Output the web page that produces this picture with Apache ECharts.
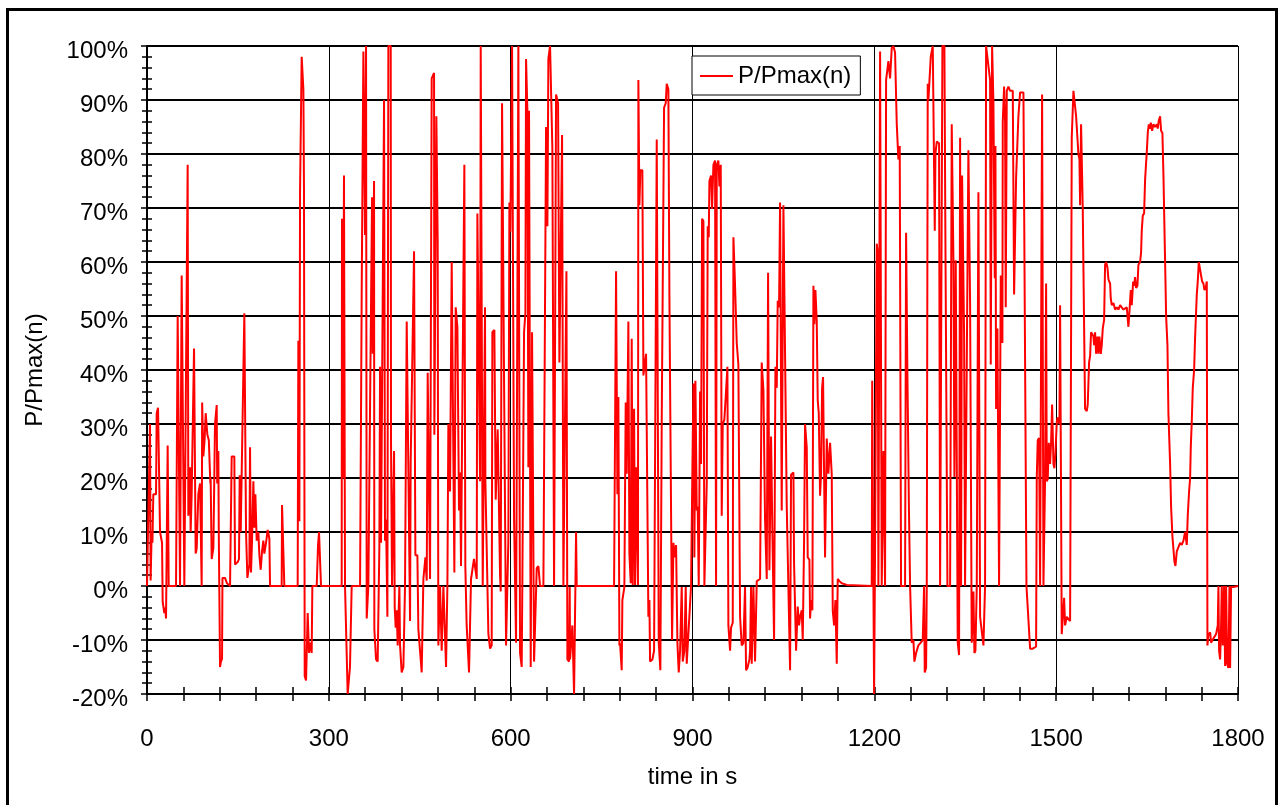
<!DOCTYPE html>
<html>
<head>
<meta charset="utf-8">
<script src="https://cdn.jsdelivr.net/npm/echarts@6/dist/echarts.min.js"></script>
<style>
html,body{margin:0;padding:0;background:#fff;}
#chart{width:1280px;height:805px;}
</style>
</head>
<body>
<div id="chart"></div>
<script>
// ---- data: [time in s, P/Pmax in %] ----
const seg0to300 = [[0,0],[5,30],[6,1],[7.7,10],[9,8],[10.4,17],[14.9,17],[16,32],[18.2,33],[21.5,10],[24.8,8],[25.9,-3],[28.6,-5],[30,-4],[31.4,-6],[34.1,26],[35.8,0],[47.9,0],[50.6,50],[54.5,0],[57.2,57.5],[61.6,0],[67.1,78],[68.2,13],[71,22],[72,10],[73.7,17],[77.6,44],[80.3,6],[82,7],[84.7,17],[87.5,19],[90.2,0],[91,34],[93,24],[95,27],[96.8,32],[99.6,28],[102,27],[104.5,19],[105,20],[106.7,5],[109.5,7],[112.2,30],[115,33.5],[115.8,19],[117.7,25],[118.5,9],[120.5,-15],[122,-14],[123.8,-13.5],[124.5,1.5],[128.7,1.5],[132,0.5],[137,0],[139.7,24],[144.1,24],[145.2,4],[150,4.5],[151.8,5],[152.9,20.5],[154.6,10],[160.6,50.5],[163.4,10],[165.6,1.5],[168.9,4],[170,25.7],[171.6,2.5],[173.3,8.4],[175.5,19.4],[177.1,10.8],[178.8,17],[181,8.4],[183.7,10],[185.4,5.7],[187.6,3],[189.8,6.4],[192,8.4],[193.6,6],[196.4,8],[199.1,10.4],[201.9,8.8],[203,0],[222.2,0],[222.8,15],[225.5,14.7],[226.6,0],[248.6,0],[249.7,45.4],[251.4,12],[252.5,73],[255.2,98],[258,92],[259,73.7],[260.2,-16.7],[262.4,-17.5],[265.1,-5],[267.3,-12.4],[269,-10.5],[271.7,-12.4],[272.8,0],[280,0],[282.2,7.6],[283.8,10],[286,10],[287.1,0]];
const seg300to600 = [[321.2,0],[321.7,68],[323,20],[325,76],[326.7,0],[331.1,-20],[334.9,-15],[337.7,0],[351.5,0],[354.2,54],[357,99],[359.7,65],[361.4,100],[362.5,-6],[365.2,0],[371.3,72],[372.4,43],[374.6,75],[375.1,-8],[376.8,-8],[377.9,-13.6],[380.6,-14],[383.4,7.6],[384.5,40.6],[386.1,8],[391.1,90],[392.7,8.4],[394.4,12.3],[396.6,-5.7],[398.2,100],[402.1,100],[402.6,26.5],[404.3,0],[407.6,25],[408.7,-4],[410.3,-7.7],[412,-4.5],[413.6,-11],[416.4,0],[417.5,-11],[420.2,-16],[423,-15],[425.7,0],[428.5,49],[431.2,49],[434,-6.5],[435,22.6],[440.6,62],[442.8,5.7],[446.1,5.7],[447.7,-8],[450.5,-12],[453.2,-16],[456,1.3],[459.3,5.3],[461.5,1],[463.1,39.5],[467,1.3],[469.7,94],[473.6,95],[474.1,28],[477.4,87],[479.6,64],[480.7,-11],[483.5,0],[486.2,-12],[489,0],[493.4,-15],[495.6,0],[497.2,30],[500,17.5],[502.7,60],[507.1,2.5],[509.3,51.6],[512.1,48],[514.8,14],[516.5,21],[518.1,3.7],[523.6,78],[525.2,3.7],[527.4,-7.3],[531.3,-16],[534.6,1.3],[537.4,1.3],[539.5,5],[541.2,5],[544,1.3],[545.1,69],[547.8,69],[549.5,19.4],[550.6,100],[553.9,0],[557.7,51.6],[558.3,19.4],[563.2,-8.8],[566,-11.6],[568.7,-11],[569.8,47],[573.1,47.4],[575.3,16],[577,16],[578.6,29],[582.5,2],[583.6,-1],[585.8,89.4],[589.1,38],[592.4,-11],[595.1,-11],[596.2,8.4],[597.9,71]];
const seg600to900 = [[599.5,65.6],[602.3,100],[605.6,12.3],[608.9,-10.5],[612.7,100],[615.5,-12.4],[618.2,-15],[619.3,1],[621,1.3],[622.1,47],[624.3,50.6],[625.4,97.6],[627.6,88],[629.2,22],[630.3,88],[633.1,-15],[635.3,47],[638.6,-14],[643,3.3],[645.7,3.7],[648.5,0],[654,0],[658.4,85],[660.6,66.6],[662.2,97.6],[665,100],[668.8,81],[671.6,0],[673.2,0],[674.9,91],[678.2,89.4],[680.4,41.4],[683.1,41.4],[684.8,83.5],[687,0],[692,58.3],[693.6,-13.6],[696.3,-14],[697.4,-0.2],[698,-13.6],[701.8,-7.3],[704.6,-20],[707.9,10],[709,0],[770.6,0],[773.9,58.3],[776.1,17],[777.7,35],[779.4,-11],[780.5,-10.6],[783.2,-15.6],[784.3,-2.6],[787.6,-0.2],[789.8,34],[791.5,20.8],[794.2,49],[795.9,6],[798.1,0.5],[799.7,45.8],[801.4,0.2],[803.6,32.8],[805.2,0.2],[806.9,22],[809.1,22],[810,0.2],[810.7,93.7],[812.4,70.5],[814,77],[817.3,77],[819,39],[823.4,43],[827.2,-5.7],[828.9,-2.6],[830,-14],[833.8,-13.6],[836.6,-12],[841,82.7],[844.3,-10.5],[847,-15.6],[849.2,30],[852,30],[853.1,88.6],[855.8,89.4],[857.5,93],[860.2,92],[861.9,53.6],[864.1,53.6],[866.3,-10],[868.5,8],[871.2,5.3],[872.9,7.6],[875.1,-10.5],[877.3,-16],[879.5,-12],[882.2,-0.2],[883.9,-14],[886.6,-12],[888.8,-0.2],[890.5,-14.4],[897.6,0]];
const seg900to1200 = [[900.4,0],[901.5,37.5],[903.1,5.3],[904.8,38],[907,14],[908.6,14.7],[910.3,0],[912.5,36],[914.1,22.6],[915.8,68],[918,67.6],[919.6,0],[921.8,0],[923.5,19],[925.1,66.6],[926.8,64.6],[927.9,75],[930.6,76],[932.3,69.8],[934.5,78],[937.2,78.8],[938.9,0],[940,78],[942.7,78.8],[944.4,74],[946.6,78],[948.2,13],[949.9,30],[952.6,30.8],[954.8,35],[957.6,40.6],[959.2,-7.3],[962,-12],[963.6,-7.7],[966.4,-6.8],[967.5,64.6],[969.7,57.5],[973,45],[975.7,41],[978.5,-5.7],[981.2,-11],[984,-10.6],[986.7,-0.2],[988.4,-15.6],[990.6,-15.2],[993.9,-13.6],[995,-12],[996.6,-0.2],[997.7,-14.4],[1000.5,-0.2],[1003.2,-14],[1006,0.9],[1011.5,1.3],[1014.2,41.4],[1017,36.3],[1019.7,12.3],[1022.5,1.3],[1024.7,58],[1026.9,2.9],[1029.6,27.7],[1031.8,10],[1034.6,-10],[1036.8,40.6],[1039,36.7],[1040.6,52.8],[1042.8,51.6],[1044.5,71],[1047.2,14],[1050,70.5],[1052.7,70.5],[1055.5,14.7],[1058.2,14.7],[1061,-15.6],[1062.6,20.6],[1066.5,21],[1067.6,4],[1070.9,-12],[1073.6,-3.8],[1075.8,-7.3],[1077.5,-5.7],[1080.2,-4.5],[1081.9,-10],[1084.1,8.4],[1085.7,30],[1088.5,25.7],[1090.1,5.3],[1092.9,4.9],[1094,-6],[1095.6,-2.6],[1097.8,-4.5],[1099.5,55.6],[1101.1,48.5],[1102.8,54.8],[1105,49],[1106.6,34.4],[1108.3,32],[1110.5,16.7],[1112.1,20.8],[1113.8,36.7],[1115.4,38.7],[1117.1,20.8],[1118.7,5.3],[1121.5,27.3],[1124.2,20.8],[1127,26.5],[1129.7,20.8],[1131.4,-4.5],[1133.6,-7.3],[1135.8,-2.6],[1138,-14.4],[1139.6,1.3],[1142.4,0.9],[1146.2,0.5],[1154.5,0.2],[1195.7,0],[1196.5,38],[1198.5,0],[1199.6,-20]];
const seg1200to1500 = [[1201.2,6.8],[1204,63.4],[1205.6,61.8],[1206.7,0],[1209.5,99],[1212.2,0],[1215,25],[1217.7,0],[1219.4,93.7],[1221.6,95.7],[1223.2,97.2],[1226,94],[1228.7,99.6],[1231.5,100],[1234.2,98.8],[1237,85.5],[1239.7,79],[1241.9,81.5],[1244.1,0],[1250.7,0],[1252.4,65.4],[1254.6,39],[1257,15],[1259,0],[1261.7,-10.5],[1264.5,-10],[1266.1,-14],[1268.9,-12.4],[1272.7,-11],[1276.6,-10.5],[1279.9,-10],[1282.1,0],[1283.2,-16],[1285.4,-15.2],[1286.5,0],[1288.1,93],[1289.2,90],[1290.9,93.4],[1293.1,98],[1296.4,100],[1298.6,100],[1299.7,65.8],[1300.8,80],[1303,82.3],[1305.2,82],[1306.8,82],[1308.5,0],[1310.7,0],[1312.3,100],[1315.6,100],[1317.3,63.4],[1319.5,63.4],[1320.6,0],[1325,0],[1327.7,85.5],[1330.5,60.3],[1332.1,20.2],[1334.3,60.3],[1336,60],[1337.6,-10.5],[1339.8,-12.8],[1341.5,83],[1343.1,0],[1344.8,76],[1347,76],[1348.1,46.5],[1349.7,0],[1352.5,0],[1355.2,80.7],[1358,52.4],[1360.7,-10.5],[1363.5,-1],[1365.1,-12.4],[1366.8,-12],[1369,0],[1371.7,72.9],[1374.5,-5.7],[1377.2,-5.7],[1380,-11],[1382.7,0],[1384.4,100],[1386.6,100],[1391,93.7],[1392.1,41],[1394.3,100],[1396.5,89.4],[1398.7,57],[1399.8,81.5],[1400.9,32.8],[1403.1,47.7],[1405.8,0],[1407.5,0],[1408.6,57.5],[1410.2,57.5],[1411.3,45],[1411.9,86],[1414.1,92.5],[1415.7,86],[1416.8,51.6],[1418.5,91.7],[1421.2,92.5],[1424,91.7],[1426.7,91.4],[1428.4,91.7],[1430.6,54],[1432.8,54],[1433.9,75.6],[1436.1,75.6],[1437.7,87],[1440.5,91.4],[1443.2,91.7],[1446,91.4],[1448,91.4],[1451,0],[1452.5,0],[1457,-11.6],[1461.4,-11.6],[1466.9,-11.2],[1468,20.2],[1469.6,27],[1471.8,27.4],[1473.5,0],[1475.1,0],[1476.8,91],[1479,0],[1480.6,0],[1481.7,19.8],[1483.4,56],[1484.5,19.4],[1486.1,19.8],[1487.8,26.5],[1490,22.6],[1491.6,26.5],[1493.3,33.6],[1495.5,22.6],[1497.1,21.8],[1498.8,24.5]];
const seg1500to1800 = [[1501,30.4],[1502.6,31.2],[1505.4,30],[1506.5,52],[1508.1,52],[1509.2,-8.9],[1510.9,-8.9],[1513.1,-2.2],[1514.7,-7.3],[1517.5,-5.7],[1520.2,-6],[1523,-6.5],[1525.7,83],[1528.5,91.7],[1530.1,92],[1532.9,87],[1535.6,87],[1536.7,80],[1538.4,79],[1539.5,70.5],[1541.1,85.5],[1542.2,85.8],[1543.9,69.7],[1545,58.7],[1547.7,32.8],[1550.5,32.4],[1552.1,33.6],[1554.3,41.4],[1556,42.6],[1557.6,47],[1559.8,46.6],[1561.5,46.2],[1562.6,44.6],[1564.2,47],[1565.9,43],[1568.1,46.2],[1569.7,43],[1571.4,46.2],[1573.6,43],[1575.2,44.6],[1576.9,47.7],[1579.1,49.3],[1580.7,59.5],[1582.4,60],[1584.6,59],[1586.2,56.8],[1589,56],[1590.1,53.2],[1591.7,52],[1594.5,52.4],[1597.2,51.2],[1600,51.6],[1602.7,51.2],[1605.5,52],[1608.2,51.6],[1611,51.2],[1613.7,51.2],[1616.5,51.6],[1619.2,48],[1620.9,50.8],[1623.1,54.8],[1624.7,52],[1627,56.4],[1628.6,55.6],[1630.2,57.2],[1631.9,55.2],[1634.1,55.6],[1635.7,59.5],[1638.5,60],[1640.1,61.8],[1641.2,65.8],[1642.9,68.6],[1645.1,69],[1646.7,75.2],[1648.4,78.4],[1649.5,80.3],[1651.1,83.9],[1652.8,85.5],[1655,84.7],[1656.1,85.8],[1658.3,84.3],[1660.5,85.5],[1662.1,85.8],[1663.2,85],[1666,85.5],[1667.6,84.7],[1669.3,86.2],[1671.5,87],[1673.1,84.3],[1675.3,83.9],[1677,76],[1679.7,60.3],[1681.4,50],[1683.6,44.6],[1685.2,32],[1688,22.6],[1689.6,14.7],[1691.8,9.2],[1693.5,6.8],[1695.1,4.5],[1696.8,3.7],[1699,6.4],[1701.7,7.2],[1704.5,8],[1707.2,7.6],[1710,8.4],[1712.7,10],[1715.5,7.6],[1717.1,13],[1719.3,17.5],[1721,20],[1722.1,25.7],[1723.7,30.4],[1725.4,36.7],[1727.6,40],[1729.2,46],[1732,54],[1733.6,56.4],[1735.3,60],[1737.5,60.3],[1739.1,57.5],[1740.8,56.4],[1743,56],[1744.6,54.8],[1746.8,55.2],[1748.5,56.4],[1749.6,-11],[1751.2,-9],[1754,-8.6],[1755.6,-10.5],[1759.5,-9.7],[1763.9,-8.9],[1766.6,-7.3],[1767.7,0],[1768.8,-12],[1770.5,-13.6],[1772.1,-7.3],[1773.2,0],[1774.8,-11],[1777,0],[1778.7,-14.8],[1780.4,0],[1782,-14.4],[1784.2,-15.2],[1785.9,0],[1787,-15.2],[1788.6,-0.2],[1792.5,-0.2],[1800,0]];

const seriesName = 'P/Pmax(n)';
const xAxisTitle = 'time in s';
const yAxisTitle = 'P/Pmax(n)';
const xTicks = [0, 300, 600, 900, 1200, 1500, 1800];
const yTicks = [-20, -10, 0, 10, 20, 30, 40, 50, 60, 70, 80, 90, 100];

const allPoints = [].concat(seg0to300, seg300to600, seg600to900, seg900to1200, seg1200to1500, seg1500to1800);

const FONT = '"Liberation Sans", Arial, Helvetica, sans-serif';
const FS = 24;
const chart = echarts.init(document.getElementById('chart'), null, {renderer: 'canvas'});

const xMin = xTicks[0], xMax = xTicks[xTicks.length - 1], xStep = xTicks[1] - xTicks[0];
const yMin = yTicks[0], yMax = yTicks[yTicks.length - 1], yStep = yTicks[1] - yTicks[0];

const tickLine = {color: '#000', width: 1.5};

chart.setOption({
  animation: false,
  backgroundColor: '#fff',
  textStyle: {fontFamily: FONT},
  grid: {left: 147, right: 42, top: 46, bottom: 111, containLabel: false, outerBoundsMode: 'none'},
  legend: {
    data: [{name: seriesName, icon: 'rect'}],
    left: 692, top: 56,
    itemWidth: 33, itemHeight: 2,
    padding: [8, 9, 7, 8],
    borderColor: '#000', borderWidth: 1, backgroundColor: '#fff',
    textStyle: {fontFamily: FONT, fontSize: FS, color: '#000', lineHeight: 23},
    selectedMode: false
  },
  xAxis: [{
    type: 'value', min: xMin, max: xMax, interval: xStep, position: 'bottom',
    axisLine: {show: true, onZero: false, lineStyle: {color: '#000', width: 2}},
    axisTick: {show: true, inside: false, length: 7, lineStyle: tickLine},
    minorTick: {show: true, splitNumber: 5, length: 7, lineStyle: tickLine},
    axisLabel: {show: true, color: '#000', fontFamily: FONT, fontSize: FS, margin: 33, hideOverlap: false, showMinLabel: true, showMaxLabel: true,
      formatter: function (v) { return String(v); }},
    splitLine: {show: true, lineStyle: {color: '#000', width: 1}},
    name: xAxisTitle, nameLocation: 'middle', nameGap: 71,
    nameTextStyle: {color: '#000', fontFamily: FONT, fontSize: FS}
  }, {
    type: 'value', min: xMin, max: xMax, interval: xStep, position: 'bottom',
    axisLine: {show: false, onZero: false},
    axisTick: {show: true, inside: true, length: 7, lineStyle: tickLine},
    minorTick: {show: true, splitNumber: 5, length: 7, lineStyle: tickLine},
    axisLabel: {show: false}, splitLine: {show: false}
  }],
  yAxis: [{
    type: 'value', min: yMin, max: yMax, interval: yStep, position: 'left',
    axisLine: {show: true, onZero: false, lineStyle: {color: '#000', width: 2}},
    axisTick: {show: true, inside: false, length: 6, lineStyle: tickLine},
    minorTick: {show: true, splitNumber: 5, length: 5, lineStyle: tickLine},
    axisLabel: {show: true, color: '#000', fontFamily: FONT, fontSize: FS, margin: 19, verticalAlign: 'top', lineHeight: 11,
      formatter: function (v) { return v + '%'; }, hideOverlap: false, showMinLabel: true, showMaxLabel: true},
    splitLine: {show: true, lineStyle: {color: '#000', width: 2}},
    name: yAxisTitle, nameLocation: 'middle', nameRotate: 90, nameGap: 100,
    nameTextStyle: {color: '#000', fontFamily: FONT, fontSize: FS}
  }, {
    type: 'value', min: yMin, max: yMax, interval: yStep, position: 'left',
    axisLine: {show: false, onZero: false},
    axisTick: {show: true, inside: true, length: 6, lineStyle: tickLine},
    minorTick: {show: true, splitNumber: 5, length: 5, lineStyle: tickLine},
    axisLabel: {show: false}, splitLine: {show: false}
  }],
  graphic: [{
    type: 'rect', z: 100, silent: true,
    shape: {x: 7.5, y: 9.5, width: 1269, height: 830},
    style: {fill: 'none', stroke: '#000', lineWidth: 3}
  }],
  series: [{
    name: seriesName, type: 'line', xAxisIndex: 0, yAxisIndex: 0,
    data: allPoints, symbol: 'none', showSymbol: false,
    lineStyle: {color: '#ff0000', width: 2}, itemStyle: {color: '#ff0000'},
    clip: true, z: 3
  }]
});
</script>
</body>
</html>
